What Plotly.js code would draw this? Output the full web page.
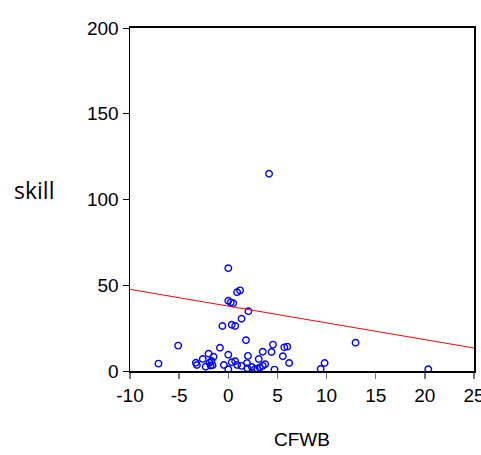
<!DOCTYPE html>
<html>
<head>
<meta charset="utf-8">
<script src="https://cdn.plot.ly/plotly-3.0.1.min.js"></script>
<style>html,body{margin:0;padding:0;background:#fff;}#chart{width:481px;height:455px;}</style>
</head>
<body>
<div id="chart"></div>
<script>
var cfwb = [-7.1,-5.1,-3.3,-3.2,-2.6,-2.3,-2.0,-1.9,-1.7,-1.8,-1.5,-1.6,-0.85,-0.6,-0.45,0.0,0.0,0.25,0.5,0.35,0.7,0.0,0.0,0.35,0.7,0.9,0.9,1.2,1.35,1.35,1.8,1.9,2.0,2.05,1.95,2.4,2.7,2.95,3.1,3.2,3.5,3.75,3.5,4.15,4.4,4.55,4.7,5.55,5.7,6.0,6.2,9.4,9.8,12.95,20.35];
var skill = [4.3,14.8,4.8,3.5,7.0,2.5,10.1,4.8,5.8,3.2,8.3,3.4,13.6,26.2,3.5,59.9,41.0,40.0,39.5,27.0,26.2,9.5,1.0,5.1,5.7,3.5,45.9,47.0,30.5,3.0,17.9,4.6,8.8,34.8,1.6,2.3,1.0,1.3,7.0,1.9,3.0,3.9,11.2,115.0,11.1,15.4,0.8,8.6,13.8,14.2,4.7,1.2,4.7,16.5,1.0];
var fitX = [-10, 25];
var fitY = [47.6, 13.4];
var xTicks = [-10,-5,0,5,10,15,20,25];
var yTicks = [0,50,100,150,200];

var traces = [
  {x: cfwb, y: skill, type: 'scatter', mode: 'markers',
   marker: {symbol: 'circle-open', size: 6.5, color: '#0000ff', line: {width: 1.4, color: '#0000ff'}},
   hoverinfo: 'none', showlegend: false},
  {x: fitX, y: fitY, type: 'scatter', mode: 'lines',
   line: {color: '#ff0000', width: 1}, hoverinfo: 'none', showlegend: false}
];

var layout = {
  width: 481, height: 455,
  margin: {l: 130, r: 7, t: 28, b: 84},
  paper_bgcolor: '#ffffff', plot_bgcolor: '#ffffff',
  font: {family: 'Liberation Sans, Arial, sans-serif', color: '#000000', size: 19},
  showlegend: false,
  xaxis: {
    range: [-10, 25], tickvals: xTicks, ticktext: xTicks.map(String),
    ticks: 'outside', ticklen: 6, tickwidth: 1.5, tickcolor: '#777777',
    ticklabeloverflow: 'allow',
    showline: true, linecolor: '#000000', linewidth: 2, mirror: true,
    showgrid: false, zeroline: false, fixedrange: true,
    tickfont: {size: 19}
  },
  yaxis: {
    range: [0, 200], tickvals: yTicks, ticktext: yTicks.map(String),
    ticks: 'outside', ticklen: 6, tickwidth: 1, tickcolor: '#000000',
    ticklabeloverflow: 'allow',
    showline: true, linecolor: '#000000', linewidth: 1.5, mirror: true,
    showgrid: false, zeroline: false, fixedrange: true,
    tickfont: {size: 19}
  },
  annotations: [
    {text: 'skill', xref: 'paper', yref: 'paper', x: -0.279, y: 0.527,
     xanchor: 'center', yanchor: 'middle', showarrow: false,
     font: {family: 'Open Sans, Noto Sans, sans-serif', size: 23, color: '#000000'}},
    {text: 'CFWB', xref: 'paper', yref: 'paper', x: 0.5, y: -0.201,
     xanchor: 'center', yanchor: 'middle', showarrow: false,
     font: {family: 'Liberation Sans, Arial, sans-serif', size: 19, color: '#000000'}}
  ]
};

Plotly.newPlot('chart', traces, layout, {staticPlot: true, displayModeBar: false});
</script>
</body>
</html>
